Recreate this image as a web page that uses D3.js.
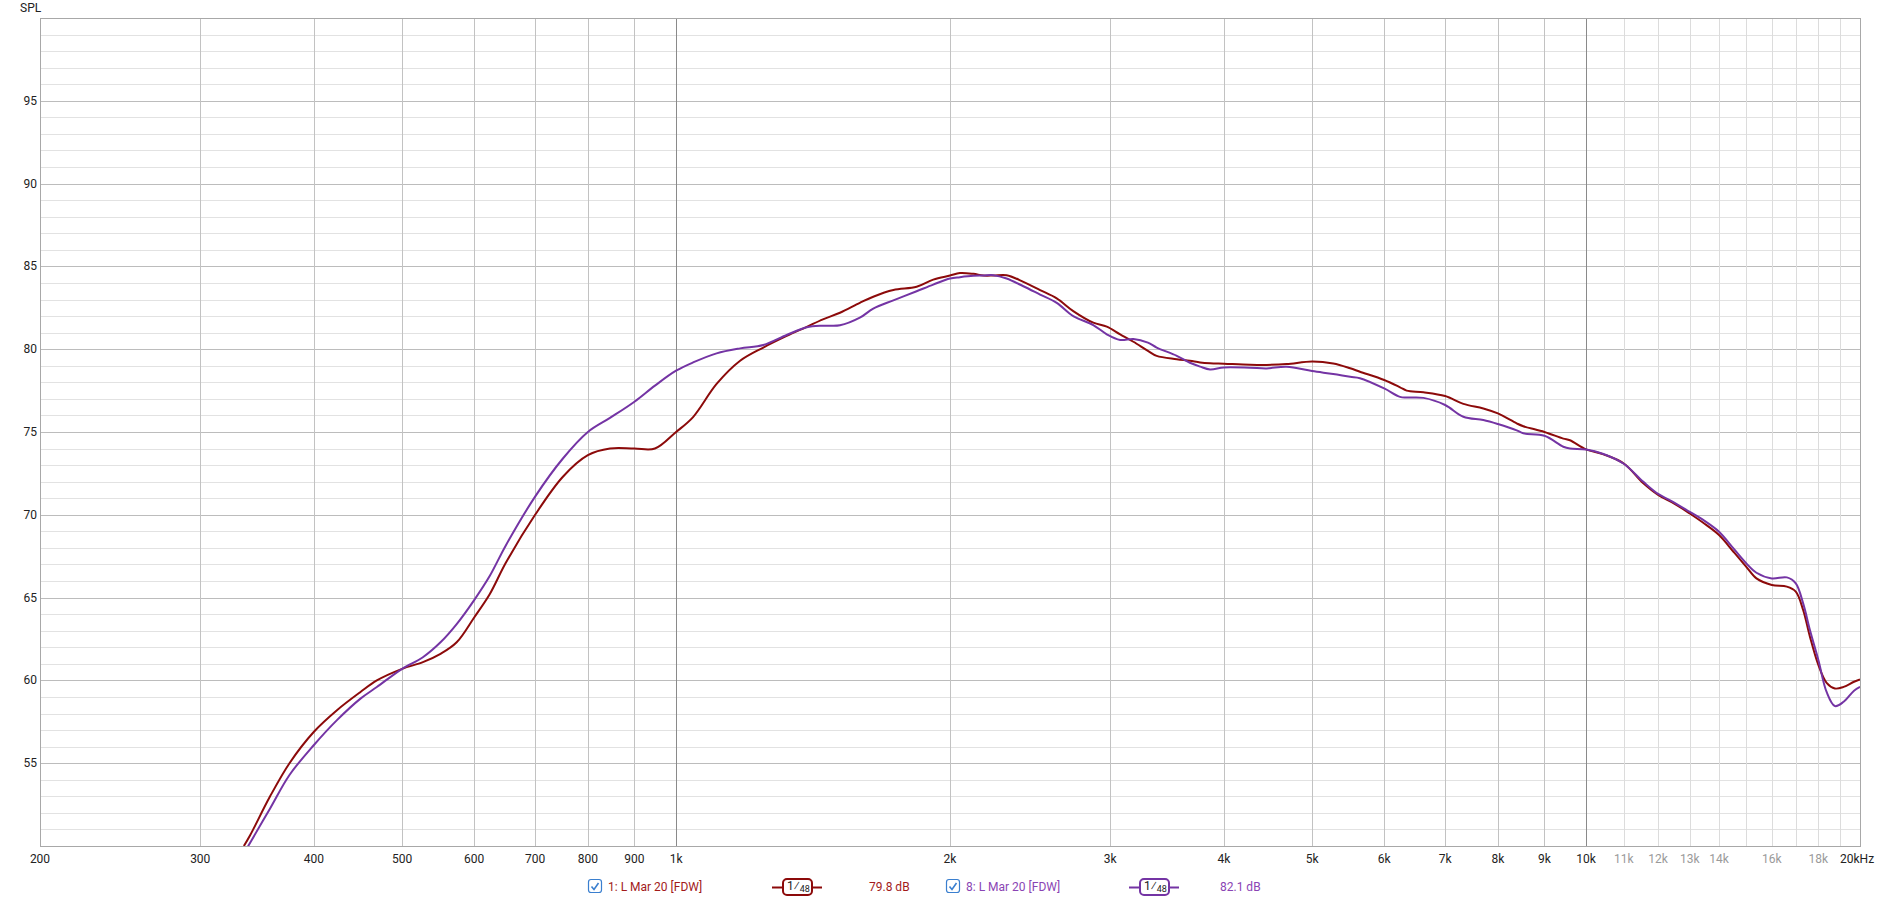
<!DOCTYPE html>
<html><head><meta charset="utf-8">
<script src="https://cdn.jsdelivr.net/npm/d3@7"></script>
<style>
html,body{margin:0;padding:0;background:#fff;}
svg{display:block;font-family:Roboto,"Liberation Sans",sans-serif;}
</style></head>
<body>
<script>
// ---- data ----
const freqs = [335,340,358,376,400,424,450,469,500,527,551,574,600,624,650,700,751,800,846,900,948,1000,1044,1108,1176,1247,1323,1392,1450,1514,1592,1647,1733,1838,1917,2000,2051,2122,2176,2232,2308,2408,2512,2620,2732,2874,2974,3076,3181,3300,3374,3550,3670,3766,3862,4000,4273,4457,4688,5000,5274,5505,5643,6000,6246,6351,6627,7000,7331,7711,8000,8390,8531,9000,9441,9600,10000,10450,11000,11560,12000,12500,13000,13450,14000,14520,15000,15390,16000,16620,17000,17320,17620,18000,18380,18770,19190,19700,20000];
const redSPL = [50.0,50.6,53.0,55.0,56.9,58.2,59.3,60.0,60.7,61.1,61.6,62.3,63.8,65.2,67.1,70.0,72.3,73.6,74.0,74.0,74.0,75.0,75.9,77.9,79.3,80.1,80.8,81.35,81.8,82.2,82.8,83.17,83.57,83.77,84.2,84.45,84.6,84.55,84.45,84.45,84.47,84.07,83.57,83.07,82.3,81.6,81.36,80.9,80.45,79.9,79.6,79.4,79.3,79.2,79.15,79.12,79.06,79.05,79.1,79.26,79.14,78.85,78.64,78.14,77.7,77.5,77.4,77.17,76.7,76.42,76.12,75.52,75.35,75.0,74.6,74.5,73.95,73.65,73.1,71.9,71.2,70.68,70.08,69.52,68.78,67.77,66.86,66.16,65.76,65.66,65.36,64.25,62.64,60.93,59.85,59.51,59.61,59.92,60.06];
const purpleSPL = [49.55,50.15,52.27,54.29,56.1,57.6,58.9,59.6,60.7,61.4,62.3,63.4,64.85,66.3,68.15,71.1,73.4,75.0,75.85,76.83,77.8,78.7,79.2,79.75,80.05,80.25,80.86,81.32,81.42,81.44,81.9,82.45,82.95,83.5,83.9,84.27,84.35,84.43,84.45,84.47,84.27,83.8,83.3,82.8,82.0,81.46,80.9,80.56,80.62,80.4,80.1,79.6,79.18,78.95,78.78,78.9,78.88,78.84,78.94,78.68,78.5,78.33,78.25,77.63,77.12,77.08,77.06,76.63,75.92,75.72,75.48,75.1,74.92,74.77,74.11,74.0,73.95,73.67,73.08,71.99,71.26,70.74,70.18,69.69,68.98,67.97,67.07,66.5,66.16,66.22,65.86,64.65,63.04,61.23,59.3,58.45,58.71,59.38,59.61];
const yTickValues = [55,60,65,70,75,80,85,90,95];
const xGridValues = [200,300,400,500,600,700,800,900,1000,2000,3000,4000,5000,6000,7000,8000,9000,10000,11000,12000,13000,14000,15000,16000,17000,18000,19000,20000];
const xTickValues = [200,300,400,500,600,700,800,900,1000,2000,3000,4000,5000,6000,7000,8000,9000,10000,11000,12000,13000,14000,16000,18000,20000];
const xTickLabels = ["200","300","400","500","600","700","800","900","1k","2k","3k","4k","5k","6k","7k","8k","9k","10k","11k","12k","13k","14k","16k","18k","20kHz"];
const legendNames = ["1: L Mar 20 [FDW]","8: L Mar 20 [FDW]"];
const legendLevels = ["79.8 dB","82.1 dB"];

// ---- layout ----
const W = 1879, H = 898;
const L = 40, R = 1860, T = 18, B = 846;
const red = "#8c0a0a", purple = "#7434a4";
const redText = "#a21a1a", purpleText = "#8a44b4";

const x = d3.scaleLog().domain([200,20000]).range([L,R]);
const y = d3.scaleLinear().domain([50,100]).range([B,T]);

const svg = d3.select("body").append("svg").attr("width",W).attr("height",H);

// horizontal grid
const minor = d3.range(51,100).filter(v => v % 5 !== 0);
svg.append("g").selectAll("line").data(minor).join("line")
  .attr("x1",L).attr("x2",R).attr("y1",d=>Math.round(y(d))+0.5).attr("y2",d=>Math.round(y(d))+0.5)
  .attr("stroke","#e2e2e2").attr("stroke-width",1);
svg.append("g").selectAll("line").data(yTickValues).join("line")
  .attr("x1",L).attr("x2",R).attr("y1",d=>Math.round(y(d))+0.5).attr("y2",d=>Math.round(y(d))+0.5)
  .attr("stroke","#bcbcbc").attr("stroke-width",1);

// vertical grid
function vColor(f){ if(f===1000||f===10000) return "#8a8a8a"; if(f>10000 && f<20000) return "#dcdcdc"; if(f===20000||f===200) return "#a8a8a8"; return "#c2c2c2"; }
svg.append("g").selectAll("line").data(xGridValues).join("line")
  .attr("x1",d=>Math.round(x(d))+0.5).attr("x2",d=>Math.round(x(d))+0.5).attr("y1",T).attr("y2",B)
  .attr("stroke",d=>vColor(d)).attr("stroke-width",1);

// frame
svg.append("line").attr("x1",L).attr("x2",R).attr("y1",T+0.5).attr("y2",T+0.5).attr("stroke","#a8a8a8");
svg.append("line").attr("x1",L).attr("x2",R+1).attr("y1",B+0.5).attr("y2",B+0.5).attr("stroke","#a8a8a8");
svg.append("line").attr("x1",L+0.5).attr("x2",L+0.5).attr("y1",T).attr("y2",B).attr("stroke","#a8a8a8");

// axes labels
svg.append("text").attr("x",20).attr("y",12).attr("font-size",12).attr("fill","#222").text("SPL");
svg.append("g").selectAll("text").data(yTickValues).join("text")
  .attr("x",37).attr("y",d=>y(d)+4).attr("text-anchor","end").attr("font-size",12).attr("fill","#222").text(d=>d);
svg.append("g").selectAll("text").data(xTickValues).join("text")
  .attr("x",(d,i)=> d===20000 ? x(d)-20 : x(d))
  .attr("y",863).attr("text-anchor",d=>d===20000?"start":"middle").attr("font-size",12)
  .attr("fill",d=>(d>10000&&d<20000)?"#9a9a9a":"#222")
  .text((d,i)=>xTickLabels[i]);

// curves
svg.append("clipPath").attr("id","plot").append("rect").attr("x",L).attr("y",T).attr("width",R-L).attr("height",B-T);
const line = d3.line().x(d=>x(d[0])).y(d=>y(d[1])).curve(d3.curveCatmullRom.alpha(0.5));
const g = svg.append("g").attr("clip-path","url(#plot)");
g.append("path").datum(freqs.map((f,i)=>[f,redSPL[i]])).attr("d",line).attr("fill","none").attr("stroke",red).attr("stroke-width",2);
g.append("path").datum(freqs.map((f,i)=>[f,purpleSPL[i]])).attr("d",line).attr("fill","none").attr("stroke",purple).attr("stroke-width",2);

// legend
const ly = 887;
const legendItems = [
  {cb:588, name:608, sym:772, lvl:869, c:red, tc:redText},
  {cb:946, name:966, sym:1129, lvl:1220, c:purple, tc:purpleText}
];
legendItems.forEach((it,i)=>{
  const lg = svg.append("g");
  lg.append("rect").attr("x",it.cb+0.5).attr("y",ly-7.5).attr("width",13).attr("height",13).attr("rx",2.5)
    .attr("fill","#fff").attr("stroke","#3a7fcf").attr("stroke-width",1.2);
  lg.append("path").attr("d",`M${it.cb+3.5},${ly-0.5} L${it.cb+6},${ly+2.5} L${it.cb+10.5},${ly-4}`)
    .attr("fill","none").attr("stroke","#3a7fcf").attr("stroke-width",1.6);
  lg.append("text").attr("x",it.name).attr("y",ly+4).attr("font-size",12).attr("fill",it.tc).text(legendNames[i]);
  lg.append("line").attr("x1",it.sym).attr("x2",it.sym+50).attr("y1",ly+0.5).attr("y2",ly+0.5).attr("stroke",it.c).attr("stroke-width",2);
  lg.append("rect").attr("x",it.sym+11).attr("y",ly-8).attr("width",29).attr("height",16).attr("rx",4)
    .attr("fill","#fff").attr("stroke",it.c).attr("stroke-width",2);
  const t = lg.append("text").attr("x",it.sym+15).attr("y",ly+3).attr("font-size",12).attr("fill","#222");
  t.append("tspan").text("1");
  t.append("tspan").attr("font-size",13).text("⁄");
  t.append("tspan").attr("font-size",9).attr("dy",2).text("48");
  lg.append("text").attr("x",it.lvl).attr("y",ly+4).attr("font-size",12).attr("fill",it.tc).text(legendLevels[i]);
});
</script>
</body></html>
